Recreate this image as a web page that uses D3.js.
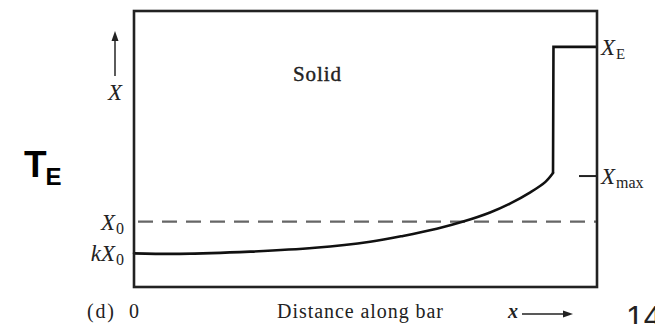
<!DOCTYPE html>
<html><head><meta charset="utf-8">
<script src="https://cdn.jsdelivr.net/npm/d3@7/dist/d3.min.js"></script>
<style>html,body{margin:0;padding:0;background:#fff;}svg{display:block;}</style>
</head><body>
<svg id="c" width="655" height="324"></svg>
<script>
// ---- data (x: distance along bar, 0..100 ; y: composition X, 0..100) ----
const curveX = [0, 9.9, 25.1, 39.1, 51.0, 58.1, 65.4, 71.1, 76.9, 81.2, 85.5, 88.8, 90.5];
const curveY = [12.2, 12.0, 12.8, 14.2, 16.4, 18.5, 21.1, 23.7, 27.0, 30.2, 34.2, 38.0, 41.3];
const stepX = [90.5, 90.6, 100];
const stepY = [41.3, 87.0, 87.0];
const levelNames = ["X0", "kX0", "XE", "Xmax"];
const levelValues = [23.7, 12.2, 87.0, 40.2];

const svg = d3.select("#c");
const x = d3.scaleLinear().domain([0, 100]).range([134, 597]);
const y = d3.scaleLinear().domain([0, 100]).range([287, 11]);
const serif = "'Liberation Serif', 'Times New Roman', serif";
const lv = n => levelValues[levelNames.indexOf(n)];

// dashed X0 line
svg.append("line")
  .attr("x1", x(0)).attr("x2", x(100))
  .attr("y1", y(lv("X0"))).attr("y2", y(lv("X0")))
  .attr("stroke", "#666").attr("stroke-width", 2.2)
  .attr("stroke-dasharray", "15,9").attr("stroke-dashoffset", 20);

// Xmax tick on right border
svg.append("line")
  .attr("x1", x(100) - 18).attr("x2", x(100))
  .attr("y1", y(lv("Xmax"))).attr("y2", y(lv("Xmax")))
  .attr("stroke", "#222").attr("stroke-width", 2);

// curve
const curvePts = curveX.map((d, i) => [d, curveY[i]]);
svg.append("path")
  .attr("d", d3.line().x(d => x(d[0])).y(d => y(d[1])).curve(d3.curveCatmullRom.alpha(0.5))(curvePts))
  .attr("fill", "none").attr("stroke", "#111").attr("stroke-width", 2.6).attr("stroke-linecap", "round");
const stepPts = stepX.map((d, i) => [d, stepY[i]]);
svg.append("path")
  .attr("d", d3.line().x(d => x(d[0])).y(d => y(d[1])).curve(d3.curveLinear)(stepPts))
  .attr("fill", "none").attr("stroke", "#111").attr("stroke-width", 2.6).attr("stroke-linejoin", "miter");

// frame
svg.append("rect")
  .attr("x", x(0)).attr("y", y(100))
  .attr("width", x(100) - x(0)).attr("height", y(0) - y(100))
  .attr("fill", "none").attr("stroke", "#222").attr("stroke-width", 2.6);

// Solid label
svg.append("text").attr("x", 317).attr("y", 81).attr("text-anchor", "middle")
  .attr("font-family", serif).attr("font-size", 21).attr("fill", "#222")
  .attr("stroke", "#222").attr("stroke-width", 0.4)
  .attr("textLength", 48).attr("lengthAdjust", "spacing")
  .text("Solid");

// level labels
function subLabel(xp, yp, anchor, pre, main, sub, size, subSize) {
  const t = svg.append("text").attr("x", xp).attr("y", yp).attr("text-anchor", anchor)
    .attr("font-family", serif).attr("font-size", size).attr("fill", "#222");
  if (pre) t.append("tspan").attr("font-style", "italic").text(pre);
  t.append("tspan").attr("font-style", "italic").text(main);
  if (sub) t.append("tspan").attr("font-size", subSize).attr("dx", 1).attr("dy", 4).text(sub);
  return t;
}
subLabel(124, y(lv("X0")) + 8, "end", "", "X", "0", 23, 16);
subLabel(124, y(lv("kX0")) + 8, "end", "k", "X", "0", 23, 16);
subLabel(601, y(lv("XE")) + 8, "start", "", "X", "E", 23, 15);
subLabel(601, y(lv("Xmax")) + 8, "start", "", "X", "max", 23, 16);

// axis X label with arrow
svg.append("text").attr("x", 115).attr("y", 100).attr("text-anchor", "middle")
  .attr("font-family", serif).attr("font-size", 23).attr("font-style", "italic").attr("fill", "#222").text("X");
svg.append("line").attr("x1", 115).attr("x2", 115).attr("y1", 76).attr("y2", 38)
  .attr("stroke", "#333").attr("stroke-width", 1.6);
svg.append("path").attr("d", "M115,31 L111.5,41 L118.5,41 Z").attr("fill", "#222");

// T_E
const te = svg.append("text").attr("x", 24).attr("y", 177)
  .attr("font-family", "'Liberation Sans', Arial, sans-serif").attr("font-weight", "bold").attr("fill", "#000");
te.append("tspan").attr("font-size", 37).text("T");
te.append("tspan").attr("font-size", 24).attr("dx", -1).attr("dy", 8).text("E");

// bottom labels
const bottomFont = 20;
svg.append("text").attr("x", 87).attr("y", 318).attr("font-family", serif).attr("font-size", bottomFont).attr("fill", "#222")
  .attr("textLength", 27).attr("lengthAdjust", "spacing").text("(d)");
svg.append("text").attr("x", x(0)).attr("y", 318).attr("text-anchor", "middle").attr("font-family", serif).attr("font-size", bottomFont).attr("fill", "#222").text("0");
svg.append("text").attr("x", 277).attr("y", 318).attr("font-family", serif).attr("font-size", bottomFont).attr("fill", "#222")
  .attr("textLength", 166).attr("lengthAdjust", "spacing").text("Distance along bar");
svg.append("text").attr("x", 513).attr("y", 318).attr("text-anchor", "middle").attr("font-family", serif).attr("font-size", 20).attr("font-style", "italic").attr("font-weight", "bold").attr("fill", "#222").text("x");
svg.append("line").attr("x1", 522).attr("x2", 565).attr("y1", 314).attr("y2", 314).attr("stroke", "#222").attr("stroke-width", 1.6);
svg.append("path").attr("d", "M573,314 L563,310.5 L563,317.5 Z").attr("fill", "#222");

// page number fragment (cut by the right/bottom edge, as in the source)
svg.append("text").attr("x", 626).attr("y", 328).attr("font-family", "'Liberation Sans', Arial, sans-serif")
  .attr("font-size", 32).attr("fill", "#222").text("14");
</script>
</body></html>
